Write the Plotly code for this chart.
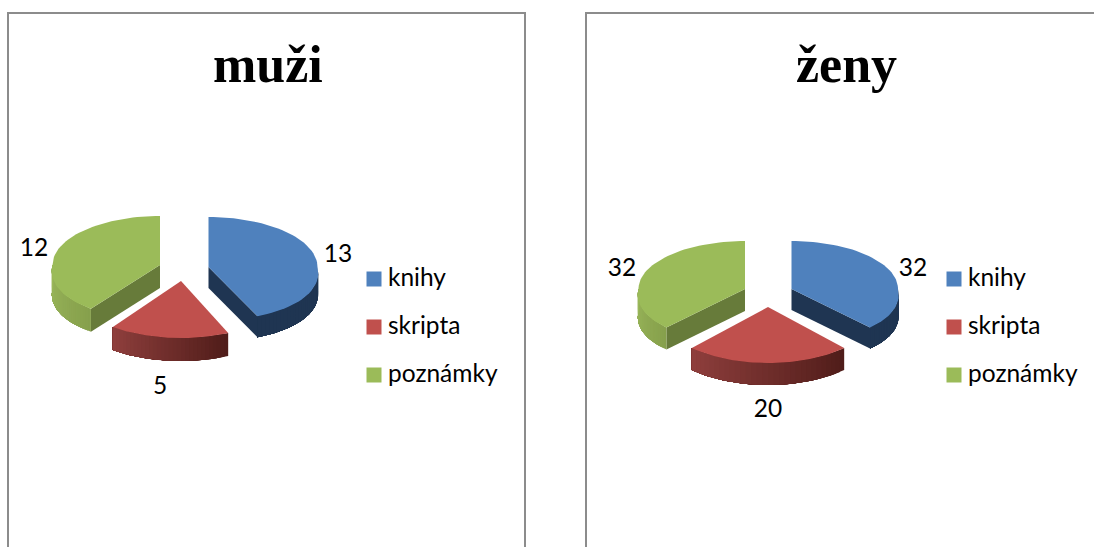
import numpy as np
import plotly.graph_objects as go

categories = ["knihy", "skripta", "poznámky"]
muzi_values = [13, 5, 12]
zeny_values = [32, 20, 32]
chart_titles = ["muži", "ženy"]

COL_TOP = ["#4F81BD", "#C0504D", "#9BBB59"]
COL_CUT = ["#1F3552", "#7A2F2D", "#677B3A"]
SIDE_GRAD = [("#1F3552", "#1F3552"), ("#8F3F3D", "#4F1C19"), ("#9CB95C", "#86A04C")]

# pixel layout of each panel: apex x, y, radius a, back radius b, depth,
# front radius b and the widening towards the viewer, for every slice
PANELS = [
    dict(values=muzi_values, title=chart_titles[0], title_x=267.5,
         frame=(8, 525),
         geom=[(208.5, 267, 109, 50, 21, 54, 0.115), (181, 281, 116, 57, 23, 57, 0), (160, 265, 107.5, 49, 23, 54, 0.115)],
         label_xy=[(338, 256), (160, 388), (34, 250)],
         leg_x=374, txt_x=388),
    dict(values=zeny_values, title=chart_titles[1], title_x=846,
         frame=(586, 1200),
         geom=[(791.5, 289, 106.5, 48, 21, 52.5, 0.115), (768, 307, 112, 56, 22, 56, 0), (745, 289, 106.5, 48, 22, 52.5, 0.115)],
         label_xy=[(913, 270), (768, 411), (622, 270)],
         leg_x=954, txt_x=968),
]
LEG_Y = [280, 328, 376]
FONT = "Lato, Carlito, Calibri, sans-serif"


def mix(c1, c2, f):
    a = [int(c1[i:i + 2], 16) for i in (1, 3, 5)]
    b = [int(c2[i:i + 2], 16) for i in (1, 3, 5)]
    return "rgb(%d,%d,%d)" % tuple(round(p + (q - p) * f) for p, q in zip(a, b))


def arc(g, t0, t1, n=60):
    cx, cy, a, b, d, bf, k = g
    t = np.radians(np.linspace(t0, t1, n))
    c = np.cos(t)
    front = np.clip(-c, 0, None)
    bb = np.where(c < 0, bf, b)
    return cx + a * np.sin(t) * (1 + k * front), cy - bb * c


def poly(fig, xs, ys, color):
    fig.add_trace(go.Scatter(x=list(xs), y=list(ys), mode="lines", fill="toself",
                             fillcolor=color, line=dict(color=color, width=0),
                             hoverinfo="skip", showlegend=False))


def slice_(fig, idx, t0, t1, g):
    cx, cy, d = g[0], g[1], g[4]
    # flat cut face that looks towards the viewer
    if idx in (0, 2):
        t = t1 if idx == 0 else t0
        ex, ey = arc(g, t, t, 1)
        poly(fig, [cx, ex[0], ex[0], cx], [cy, ey[0], ey[0] + d, cy + d], COL_CUT[idx])
    # outer rim, front half only: each band reaches to the left end and the
    # next one paints over it, so no seams show between the shading steps
    s0, s1 = max(t0, 90), min(t1, 270)
    if s1 > s0:
        n = 30
        edges = np.linspace(s0, s1, n + 1)
        for k in range(n):
            x, y = arc(g, edges[k], s1, 40)
            col = mix(SIDE_GRAD[idx][0], SIDE_GRAD[idx][1], 1 - (k + 0.5) / n)
            poly(fig, np.r_[x, x[::-1]], np.r_[y, y[::-1] + d], col)
    # top face
    x, y = arc(g, t0, t1)
    poly(fig, np.r_[cx, x], np.r_[cy, y], COL_TOP[idx])


fig = go.Figure()

for p in PANELS:
    vals = np.array(p["values"], float)
    ang = np.r_[0, np.cumsum(vals) / vals.sum() * 360]
    for idx in (0, 2, 1):
        slice_(fig, idx, ang[idx], ang[idx + 1], p["geom"][idx])
    lx, ly = zip(*p["label_xy"])
    fig.add_trace(go.Scatter(x=lx, y=ly, mode="text", text=[str(v) for v in p["values"]],
                             textposition="middle center",
                             textfont=dict(family=FONT, size=24.5, color="#000000"),
                             hoverinfo="skip", showlegend=False))
    fig.add_trace(go.Scatter(x=[p["leg_x"]] * 3, y=[y - 1 for y in LEG_Y], mode="markers",
                             marker=dict(symbol="square", size=15, color=COL_TOP, line=dict(width=0)),
                             hoverinfo="skip", showlegend=False))
    fig.add_trace(go.Scatter(x=[p["txt_x"]] * 3, y=LEG_Y, mode="text", text=categories,
                             textposition="middle right",
                             textfont=dict(family=FONT, size=24.5, color="#000000"),
                             hoverinfo="skip", showlegend=False))
    fig.add_annotation(x=p["title_x"], y=64, text="<b>%s</b>" % p["title"], showarrow=False,
                       font=dict(family="Liberation Serif, serif", size=52, color="#000000"),
                       xanchor="center", yanchor="middle")
    l, r = p["frame"]
    fig.add_shape(type="rect", x0=l, x1=r, y0=13, y1=600,
                  line=dict(color="#8C8C8C", width=2), fillcolor="rgba(0,0,0,0)", layer="below")

fig.update_xaxes(range=[0, 1094], visible=False, fixedrange=True)
fig.update_yaxes(range=[547, 0], visible=False, fixedrange=True)
fig.update_layout(width=1094, height=547, margin=dict(l=0, r=0, t=0, b=0),
                  paper_bgcolor="#FFFFFF", plot_bgcolor="#FFFFFF", showlegend=False)

fig.write_html("out.html", config={"displayModeBar": False},
               post_script="document.body.style.margin='0';")
